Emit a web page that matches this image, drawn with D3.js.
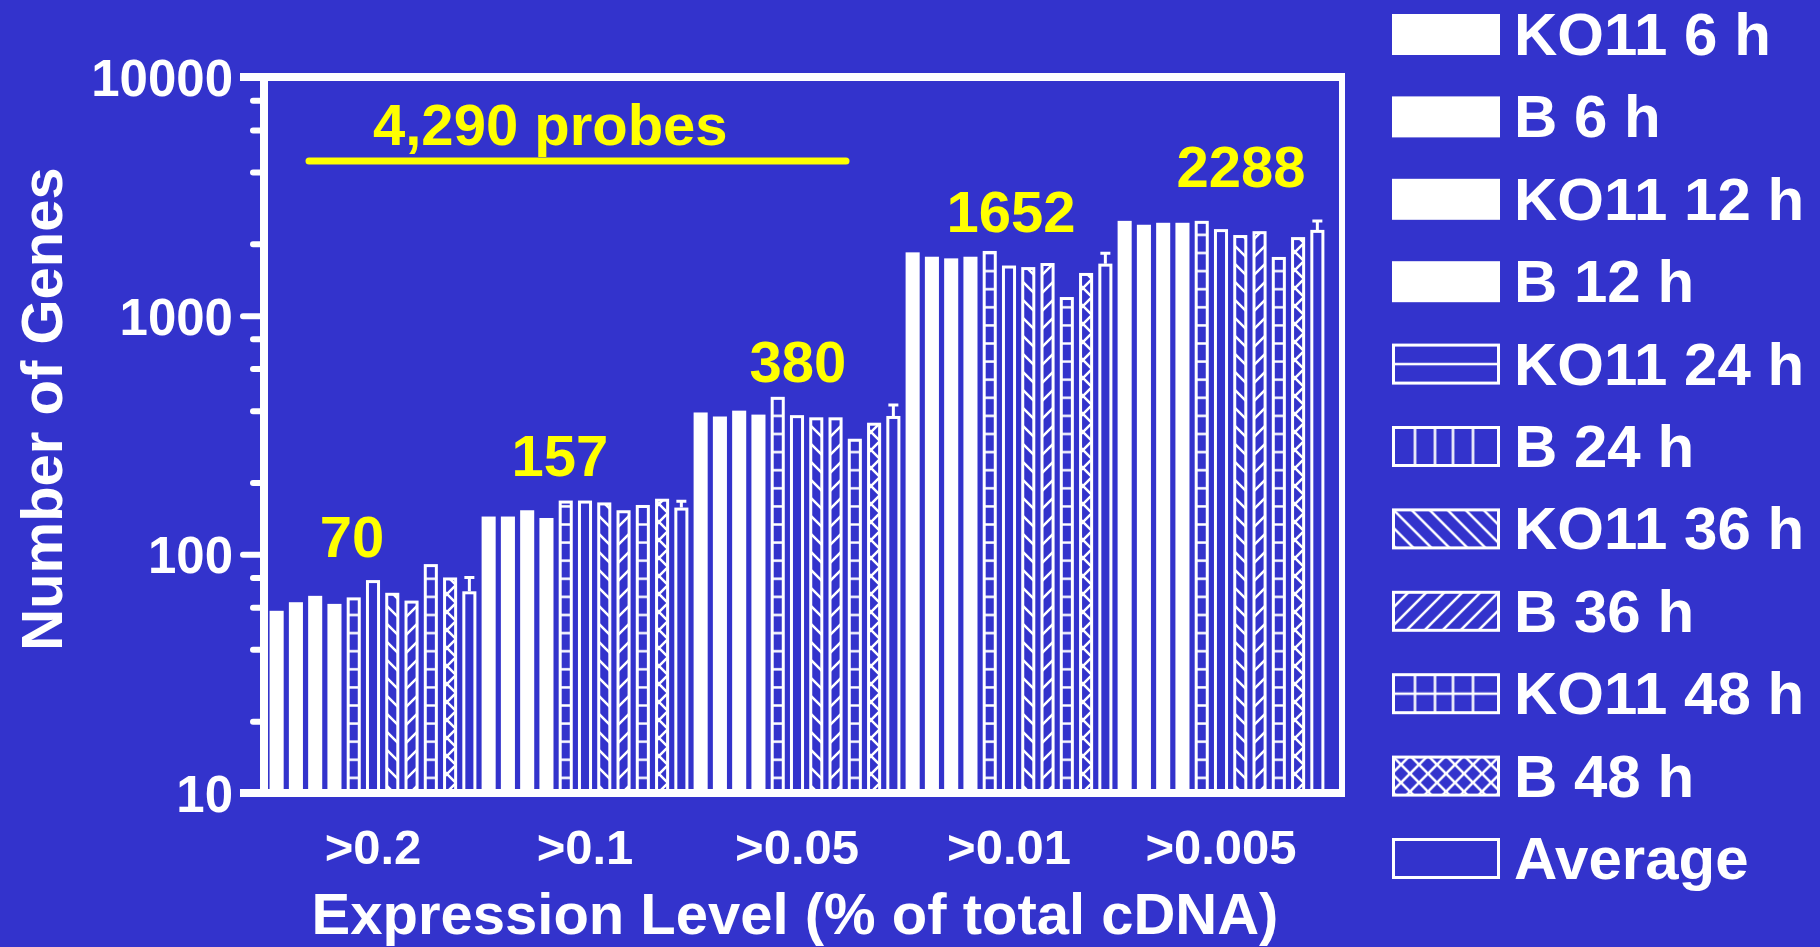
<html>
<head>
<script src="https://cdnjs.cloudflare.com/ajax/libs/d3/7.8.5/d3.min.js"></script>
  <meta charset="utf-8">
  <title>Number of Genes by Expression Level</title>
  <style>
    body { margin: 0; background: #3333CC; }
    text { font-family: "Liberation Sans", Arial, sans-serif; font-weight: bold; }
  </style>
</head>
<body>
	<script type="text/javascript">

		// data
		var categories = [">0.2", ">0.1", ">0.05", ">0.01", ">0.005"];
		var seriesNames = ["KO11 6 h", "B 6 h", "KO11 12 h", "B 12 h", "KO11 24 h", "B 24 h",
			"KO11 36 h", "B 36 h", "KO11 48 h", "B 48 h", "Average"];

		var ko11_6h  = [58, 144, 393, 1842, 2496];
		var b_6h     = [63, 144, 378, 1766, 2404];
		var ko11_12h = [67, 153, 400, 1738, 2450];
		var b_12h    = [62, 142, 385, 1766, 2450];
		var ko11_24h = [66, 168, 457, 1867, 2496];
		var b_24h    = [78, 168, 383, 1622, 2305];
		var ko11_36h = [69, 165, 375, 1598, 2177];
		var b_36h    = [64, 153, 375, 1662, 2260];
		var ko11_48h = [91, 161, 305, 1197, 1762];
		var b_48h    = [80, 171, 356, 1510, 2134];
		var average  = [70, 157, 380, 1652, 2288];
		var averageErr = [10, 10, 42, 176, 202];

		var yTicks = [10, 100, 1000, 10000];
		var yMinorTicks = [20, 40, 60, 80, 200, 400, 600, 800, 2000, 4000, 6000, 8000];

		var seriesValues = [ko11_6h, b_6h, ko11_12h, b_12h, ko11_24h, b_24h,
			ko11_36h, b_36h, ko11_48h, b_48h, average];
		var seriesFill = ["solid", "solid", "solid", "solid", "hlines", "vlines",
			"back", "fwd", "grid", "cross", "hollow"];

		// layout
		var w = 1820;
		var h = 947;
		var bg = "#3333CC";
		var yellow = "#FFFF00";
		var plotLeft = 264, plotRight = 1342, plotTop = 77, plotBottom = 793;
		var labelNudgeX = [-21, -25, 1, 2, 20];
		var labelNudgeY = [-20, -25, -23, -21, -34];

		var svg = d3.select("body")
					.append("svg")
					.attr("width", w)
					.attr("height", h);

		svg.append("rect").attr("width", w).attr("height", h).attr("fill", bg);

		var x0 = d3.scaleBand().domain(categories).range([267, 1327]);
		var x1 = d3.scaleBand().domain(seriesNames).range([0, x0.bandwidth()])
			.paddingInner(0.27).paddingOuter(0.135);
		var y = d3.scaleLog().domain([10, 10000]).range([plotBottom, plotTop]);

		// patterns
		var defs = svg.append("defs");
		var step = x1.step();
		var gridX = x0(categories[0]) + x1(seriesNames[0]);
		var hStep = 18.1;

		function pat(id, px, py, pw, ph) {
			return defs.append("pattern").attr("id", id)
				.attr("patternUnits", "userSpaceOnUse")
				.attr("x", px).attr("y", py).attr("width", pw).attr("height", ph);
		}
		function stroke(sel) {
			return sel.attr("stroke", "white").attr("stroke-width", 2.5).attr("fill", "none");
		}

		stroke(pat("p-hlines", gridX, 615 - hStep / 2, step, hStep).append("path")
			.attr("d", "M-1," + hStep / 2 + "H" + (step + 1)));
		stroke(pat("p-vlines", gridX, 0, step, 20).append("path")
			.attr("d", "M0,-1V21"));
		stroke(pat("p-grid", gridX, 615 - hStep / 2, step, hStep).append("path")
			.attr("d", "M-1," + hStep / 2 + "H" + (step + 1) + "M0,-1V" + (hStep + 1)));
		stroke(pat("p-back", 0, 0, 18, 18).append("path")
			.attr("d", "M0,0L18,18M-9,9L9,27M9,-9L27,9"));
		stroke(pat("p-fwd", 0, 0, 18, 18).append("path")
			.attr("d", "M0,18L18,0M-9,9L9,-9M9,27L27,9"));
		stroke(pat("p-cross", 0, 0, 18, 18).append("path")
			.attr("d", "M0,0L18,18M-9,9L9,27M9,-9L27,9M0,18L18,0M-9,9L9,-9M9,27L27,9"));

		// legend swatch patterns (relative to each swatch)
		function bboxPat(id) {
			return defs.append("pattern").attr("id", id)
				.attr("patternUnits", "objectBoundingBox")
				.attr("patternContentUnits", "userSpaceOnUse")
				.attr("x", 0).attr("y", 0).attr("width", 1).attr("height", 1);
		}
		var swW = 108, swH = 41;
		var vl = [21.5, 41.5, 59.5, 79.5].map(function(v) { return "M" + v + ",0V" + swH; }).join("");
		var hl = "M0," + (swH - 3) / 2 + "H" + swW;
		stroke(bboxPat("l-hlines").append("path").attr("d", hl));
		stroke(bboxPat("l-vlines").append("path").attr("d", vl));
		stroke(bboxPat("l-grid").append("path").attr("d", hl + vl));

		function fillFor(kind, legend) {
			if (kind == "solid") return "white";
			if (kind == "hollow") return "none";
			if (legend && (kind == "hlines" || kind == "vlines" || kind == "grid")) return "url(#l-" + kind + ")";
			return "url(#p-" + kind + ")";
		}

		// bars
		var table = categories.map(function(c, gi) {
			return { cat: c, bars: seriesNames.map(function(s, si) {
				return { series: s, si: si, value: seriesValues[si][gi] };
			}) };
		});

		var groups = svg.selectAll("g.group")
			.data(table)
			.enter()
			.append("g")
			.attr("class", "group")
			.attr("transform", function(d) { return "translate(" + x0(d.cat) + ",0)"; });

		groups.selectAll("rect")
			.data(function(d) { return d.bars; })
			.enter()
			.append("rect")
			.attr("x", function(d) {
				return x1(d.series) + (seriesFill[d.si] == "solid" ? 0 : 1.5);
			})
			.attr("y", function(d) {
				return y(d.value) + (seriesFill[d.si] == "solid" ? 0 : 1.5);
			})
			.attr("width", function(d) {
				return x1.bandwidth() - (seriesFill[d.si] == "solid" ? 0 : 3);
			})
			.attr("height", function(d) {
				return plotBottom - y(d.value) - (seriesFill[d.si] == "solid" ? 0 : 1.5);
			})
			.attr("fill", function(d) { return fillFor(seriesFill[d.si], false); })
			.attr("stroke", function(d) { return seriesFill[d.si] == "solid" ? "none" : "white"; })
			.attr("stroke-width", 3);

		// error bars on the average
		var avgName = seriesNames[seriesNames.length - 1];
		var ex = x1(avgName) + x1.bandwidth() / 2;
		groups.append("path")
			.attr("d", function(d, i) {
				var top = y(average[i] + averageErr[i]);
				return "M" + ex + "," + y(average[i]) + "V" + top + "M" + (ex - 5) + "," + top + "H" + (ex + 5);
			})
			.attr("stroke", "white")
			.attr("stroke-width", 3)
			.attr("fill", "none");

		// group totals
		svg.selectAll("text.total")
			.data(average)
			.enter()
			.append("text")
			.attr("class", "total")
			.text(function(d) { return d; })
			.attr("x", function(d, i) { return x0(categories[i]) + x0.bandwidth() / 2 + labelNudgeX[i]; })
			.attr("y", function(d, i) { return y(d + averageErr[i]) + labelNudgeY[i]; })
			.attr("text-anchor", "middle")
			.attr("font-size", "58px")
			.attr("fill", yellow);

		// probes annotation
		svg.append("line")
			.attr("x1", 309).attr("x2", 846).attr("y1", 161).attr("y2", 161)
			.attr("stroke", yellow).attr("stroke-width", 7).attr("stroke-linecap", "round");
		svg.append("text")
			.text("4,290 probes")
			.attr("x", 373).attr("y", 145)
			.attr("font-size", "58px")
			.attr("fill", yellow);

		// frame
		svg.append("path")
			.attr("d", "M240," + plotTop + "H" + (plotRight + 3) + "M240," + plotBottom + "H" + (plotRight + 3))
			.attr("stroke", "white").attr("stroke-width", 8);
		svg.append("path")
			.attr("d", "M" + plotLeft + "," + (plotTop - 4) + "V" + (plotBottom + 4))
			.attr("stroke", "white").attr("stroke-width", 8);
		svg.append("path")
			.attr("d", "M" + plotRight + "," + (plotTop - 4) + "V" + (plotBottom + 4))
			.attr("stroke", "white").attr("stroke-width", 6);

		// y axis
		var gMinor = svg.append("g")
			.attr("transform", "translate(" + plotLeft + ",0)")
			.call(d3.axisLeft(y).tickValues(yMinorTicks).tickSize(11).tickFormat(""));
		var gMajor = svg.append("g")
			.attr("transform", "translate(" + plotLeft + ",0)")
			.call(d3.axisLeft(y).tickValues(yTicks).tickSize(21).tickPadding(10).tickFormat(d3.format("d")));
		[gMinor, gMajor].forEach(function(g) {
			g.select(".domain").remove();
			g.attr("font-family", null).attr("font-size", null);
			g.selectAll("line").attr("stroke", "white").attr("stroke-width", 6).attr("stroke-linecap", "round");
		});
		gMajor.selectAll("text")
			.attr("fill", "white")
			.attr("font-size", "51px")
			.attr("dy", "0.36em");

		// x axis
		var gx = svg.append("g")
			.attr("transform", "translate(0," + plotBottom + ")")
			.call(d3.axisBottom(x0).tickSize(0).tickPadding(36));
		gx.select(".domain").remove();
		gx.attr("font-family", null).attr("font-size", null);
		gx.selectAll("text")
			.attr("fill", "white")
			.attr("font-size", "49px");

		// axis titles
		svg.append("text")
			.text("Expression Level (% of total cDNA)")
			.attr("x", 795).attr("y", 934)
			.attr("text-anchor", "middle")
			.attr("font-size", "58px")
			.attr("fill", "white");
		svg.append("text")
			.text("Number of Genes")
			.attr("transform", "translate(62,409) rotate(-90)")
			.attr("text-anchor", "middle")
			.attr("font-size", "58px")
			.attr("fill", "white");

		// legend
		var legend = svg.selectAll("g.legend")
			.data(seriesNames)
			.enter()
			.append("g")
			.attr("class", "legend")
			.attr("transform", function(d, i) { return "translate(1392," + (14 + 82.4 * i) + ")"; });

		legend.append("rect")
			.attr("x", function(d, i) { return seriesFill[i] == "solid" ? 0 : 1.5; })
			.attr("y", function(d, i) { return seriesFill[i] == "solid" ? 0 : 1.5; })
			.attr("width", function(d, i) { return seriesFill[i] == "solid" ? swW : swW - 3; })
			.attr("height", function(d, i) { return seriesFill[i] == "solid" ? swH : swH - 3; })
			.attr("fill", function(d, i) { return fillFor(seriesFill[i], true); })
			.attr("stroke", function(d, i) { return seriesFill[i] == "solid" ? "none" : "white"; })
			.attr("stroke-width", 3);

		legend.append("text")
			.text(function(d) { return d; })
			.attr("x", 122)
			.attr("y", swH)
			.attr("font-size", "60px")
			.attr("fill", "white");
	</script>
</body>
</html>
